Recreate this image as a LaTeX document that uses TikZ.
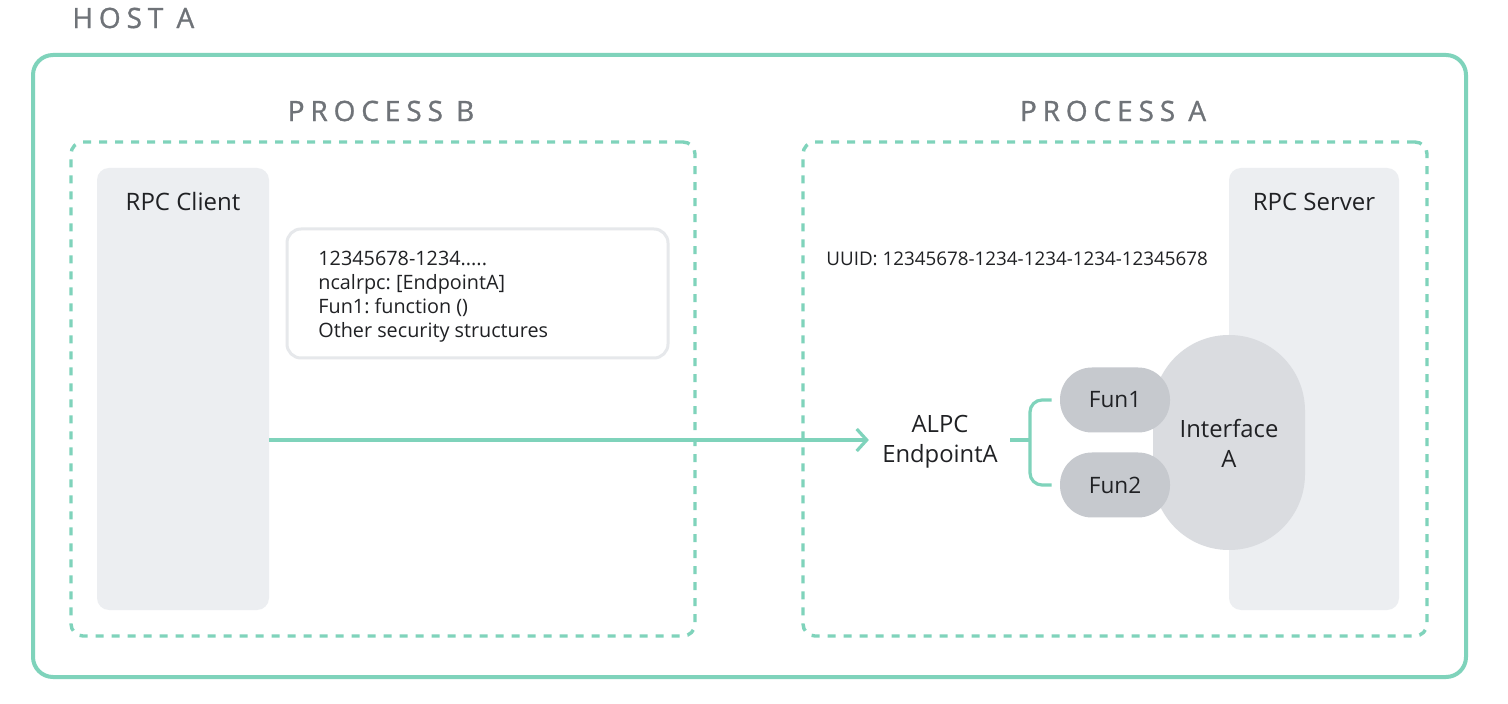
\documentclass[tikz,border=0pt]{standalone}
\usepackage{fontspec}
\setmainfont{Open Sans}
\newfontfamily\titlefont[LetterSpace=21,FakeBold=1]{Open Sans}
\usetikzlibrary{arrows.meta}
\definecolor{teal1}{HTML}{7FD3BB}
\definecolor{titlegray}{HTML}{6F7378}
\definecolor{txt}{HTML}{202124}
\definecolor{boxfill}{HTML}{ECEEF1}
\definecolor{infoborder}{HTML}{E6E8EB}
\definecolor{ifill}{HTML}{DADCE0}
\definecolor{ffill}{HTML}{C6C9CE}
\tikzset{
  title/.style={font=\titlefont\fontsize{14}{16}\selectfont, text=titlegray, inner sep=0pt},
  hostbox/.style={draw=teal1, line width=2pt, rounded corners=10pt, inner sep=0pt},
  procbox/.style={draw=teal1, line width=1.7pt, dash pattern=on 4pt off 4pt, rounded corners=6pt, inner sep=0pt},
  rpcbox/.style={fill=boxfill, rounded corners=6pt, inner sep=0pt},
  rpclabel/.style={font=\fontsize{12}{14}\selectfont, text=txt, inner sep=0pt},
  infobox/.style={draw=infoborder, line width=1.5pt, fill=white, rounded corners=7pt, inner sep=0pt},
  infotext/.style={align=left, text=txt, font=\fontsize{9.9}{12}\selectfont, inner sep=0pt},
  plain/.style={text=txt, font=\fontsize{9.4}{12}\selectfont, inner sep=0pt},
  mid/.style={text=txt, font=\fontsize{11.9}{15}\selectfont, align=center, inner sep=0pt},
  iface/.style={fill=ifill, rounded corners=37.9pt, inner sep=0pt, minimum width=76pt, minimum height=107.5pt},
  funbox/.style={fill=ffill, rounded corners=16pt, inner sep=0pt, minimum width=55pt, minimum height=32.5pt,
     text=txt, font=\fontsize{11.3}{13}\selectfont},
  link/.style={draw=teal1, line width=1.6pt},
}
\frenchspacing
\begin{document}
\begin{tikzpicture}[x=0.5pt,y=-0.5pt]
\useasboundingbox[fill=white] (0,0) rectangle (1508,704);
% host
\node[title, anchor=west] (hostlabel) at (72,18) {HOST A};
\node[hostbox, minimum width=716.5pt, minimum height=311pt] (host) at (749.5,366) {};
% processes
\node[title] (pblabel) at (381,111) {PROCESS B};
\node[title] (palabel) at (1113,111) {PROCESS A};
\node[procbox, minimum width=312pt, minimum height=247pt] (procb) at (383,389) {};
\node[procbox, minimum width=312pt, minimum height=247pt] (proca) at (1115,389) {};
% rpc boxes
\node[rpcbox, minimum width=86pt, minimum height=221pt] (client) at (183,389) {};
\node[rpclabel] (clientlabel) at (183,202) {RPC Client};
\node[rpcbox, minimum width=85pt, minimum height=221pt] (server) at (1314,389) {};
\node[rpclabel] (serverlabel) at (1314,202) {RPC Server};
% info box
\node[infobox, minimum width=190.5pt, minimum height=64.5pt] (info) at (477.5,293.5) {};
\node[infotext, anchor=west] (infotxt) at (318,297)
  {12345678-1234.....\\ncalrpc: [EndpointA]\\Fun1: function ()\\Other security structures};
\node[plain, anchor=west] (uuid) at (826,259) {UUID: 12345678-1234-1234-1234-12345678};
% interface
\node[iface] (iface) at (1229,442.5) {};
\node[mid] (ifacelabel) at (1229,443) {Interface\\A};
\node[funbox] (fun1) at (1115,400) {Fun1};
\node[funbox] (fun2) at (1115,485) {Fun2};
% endpoint
\node[mid] (alpc) at (940,442) {ALPC\\EndpointA};
\coordinate (br) at (1030,440);
% connectors
\draw[link, -{Straight Barb[length=5pt,width=11pt]}] (client.east |- 0,440) -- ([xshift=-6.5pt]alpc.west |- 0,440);
\draw[link] ([xshift=6pt]alpc.east |- br) -- (br);
\draw[link, rounded corners=6pt] ([xshift=-4pt]fun1.west) -| (br) |- ([xshift=-4pt]fun2.west);
\end{tikzpicture}
\end{document}
